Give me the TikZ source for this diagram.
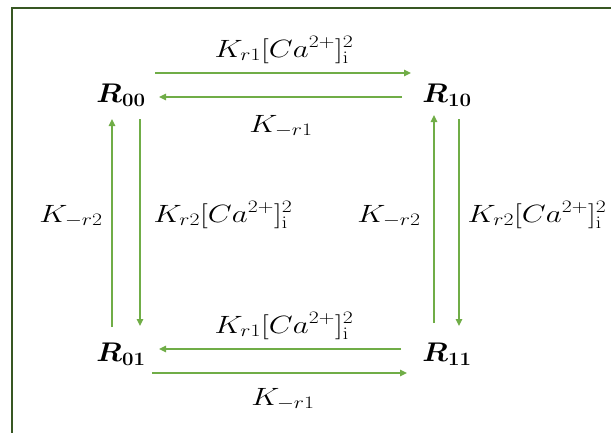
\RequirePackage{fix-cm}
\documentclass[tikz,border=0pt]{standalone}
\usepackage{amsmath}
\usetikzlibrary{arrows.meta}
\definecolor{framegreen}{RGB}{56,87,35}
\definecolor{arrgreen}{RGB}{112,173,71}
\tikzset{
  state/.style={anchor=base, inner sep=0pt, font=\fontsize{27}{32}\selectfont, xscale=1.08, transform shape},
  rate/.style={anchor=base, inner sep=0pt, font=\fontsize{25}{30}\selectfont, xscale=1.24, transform shape},
  arr/.style={draw=arrgreen, line width=1.4pt, -{Triangle[length=7pt,width=6.5pt]}, arrgreen},
  frame/.style={draw=framegreen, line width=2pt}
}
\begin{document}
\begin{tikzpicture}[x=1pt,y=-1pt]
\useasboundingbox (0,0) rectangle (611,432);
\draw[frame] (12,440) -- (12,8) -- (620,8);
% states
\node[state] (R00) at (121,102) {$\boldsymbol{R}_{\mathbf{00}}$};
\node[state] (R10) at (447,102) {$\boldsymbol{R}_{\mathbf{10}}$};
\node[state] (R01) at (121,361) {$\boldsymbol{R}_{\mathbf{01}}$};
\node[state] (R11) at (447,361) {$\boldsymbol{R}_{\mathbf{11}}$};
% arrows
\draw[arr] ([shift={(34,-29)}]R00.base) -- ([shift={(-36,-29)}]R10.base);
\draw[arr] ([shift={(-45,-5)}]R10.base) -- ([shift={(38,-5)}]R00.base);
\draw[arr] ([shift={(-9,-34)}]R01.base) -- ([shift={(-9,17)}]R00.base);
\draw[arr] ([shift={(19,17)}]R00.base) -- ([shift={(19,-35)}]R01.base);
\draw[arr] ([shift={(-13,-38)}]R11.base) -- ([shift={(-13,13)}]R10.base);
\draw[arr] ([shift={(12,17)}]R10.base) -- ([shift={(12,-35)}]R11.base);
\draw[arr] ([shift={(-46,-12)}]R11.base) -- ([shift={(38,-12)}]R01.base);
\draw[arr] ([shift={(31,12)}]R01.base) -- ([shift={(-40,12)}]R11.base);
% labels
\node[rate] (l1) at (284,57) {$K_{r1}[Ca^{2+}]_{\mathrm{i}}^{2}$};
\node[rate] (l2) at (281,132) {$K_{-r1}$};
\node[rate] (l3) at (71,222) {$K_{-r2}$};
\node[rate] (l4) at (223,222) {$K_{r2}[Ca^{2+}]_{\mathrm{i}}^{2}$};
\node[rate] (l5) at (389,222) {$K_{-r2}$};
\node[rate] (l6) at (537,222) {$K_{r2}[Ca^{2+}]_{\mathrm{i}}^{2}$};
\node[rate] (l7) at (284,333) {$K_{r1}[Ca^{2+}]_{\mathrm{i}}^{2}$};
\node[rate] (l8) at (283,405) {$K_{-r1}$};
\end{tikzpicture}
\end{document}
